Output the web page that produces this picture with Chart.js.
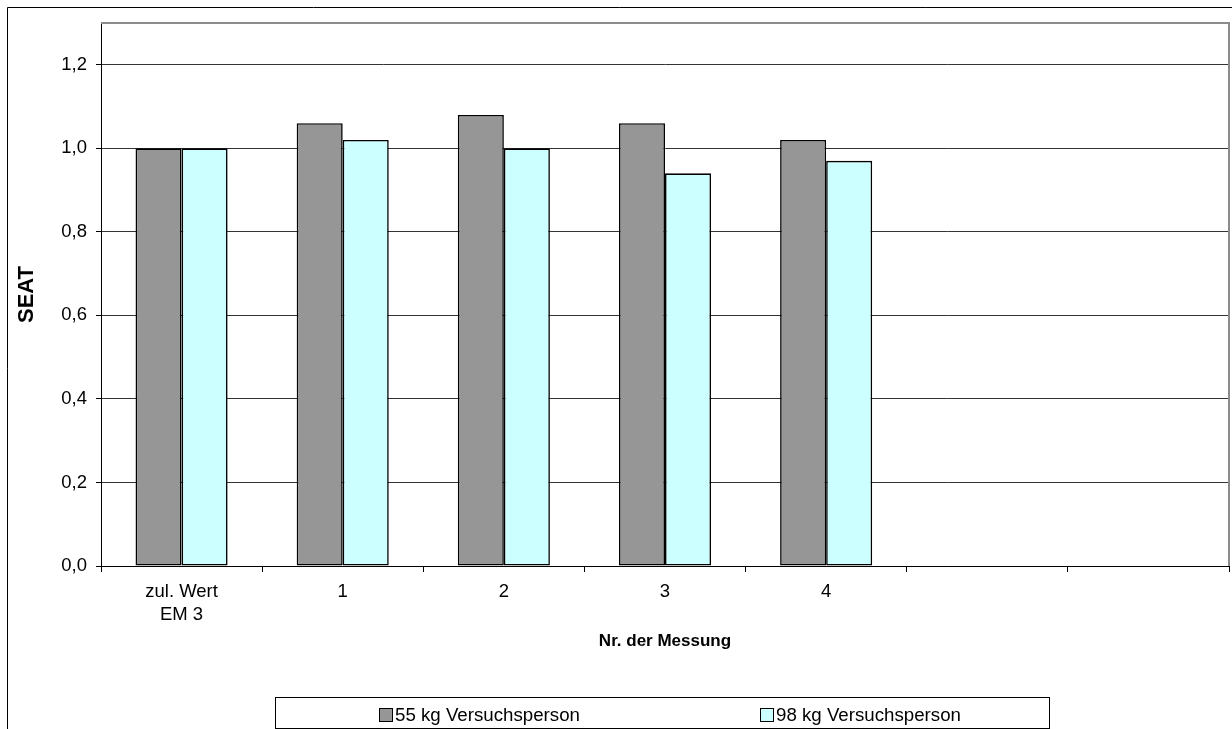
<!DOCTYPE html>
<html>
<head>
<meta charset="utf-8">
<title>SEAT – Nr. der Messung</title>
<script src="https://cdn.jsdelivr.net/npm/chart.js@4.4.1/dist/chart.umd.min.js"></script>
<style>
  html, body { margin: 0; padding: 0; background: #fff; }
  #wrap { width: 1232px; height: 729px; position: relative; }
</style>
</head>
<body>
<div id="wrap"><canvas id="chart"></canvas></div>
<script>
// Categories along the x axis (two trailing empty slots keep the axis width)
const categories = [['zul. Wert', 'EM 3'], '1', '2', '3', '4', '', ''];
// SEAT values per measurement
const seat55 = [1.00, 1.06, 1.08, 1.06, 1.02, null, null];
const seat98 = [1.00, 1.02, 1.00, 0.94, 0.97, null, null];
const seriesLabels = ['55 kg Versuchsperson', '98 kg Versuchsperson'];
// Value axis
const yTicks = [0, 0.2, 0.4, 0.6, 0.8, 1.0, 1.2];
const yMax = 1.3;
const yTitle = 'SEAT';
const xTitle = 'Nr. der Messung';

const FONT = '"Liberation Sans", Arial, Helvetica, sans-serif';
Chart.defaults.font.family = FONT;
Chart.defaults.color = '#000';

// Chart frame, plot-area border and the boxed legend underneath
const excelFrame = {
  id: 'excelFrame',
  beforeDraw(chart) {
    const ctx = chart.ctx;
    ctx.save();
    ctx.strokeStyle = '#000';
    ctx.lineWidth = 1;
    ctx.beginPath();
    ctx.moveTo(7.5, chart.height);
    ctx.lineTo(7.5, 7.5);
    ctx.lineTo(chart.width, 7.5);
    ctx.stroke();
    ctx.restore();
  },
  beforeDatasetsDraw(chart) {
    const { left, top, right, bottom } = chart.chartArea;
    const ctx = chart.ctx;
    ctx.save();
    ctx.strokeStyle = '#8c8c8c';
    ctx.lineWidth = 2;
    ctx.beginPath();
    ctx.moveTo(left, top);
    ctx.lineTo(right, top);
    ctx.lineTo(right, bottom);
    ctx.stroke();
    ctx.restore();
  },
  afterDraw(chart) {
    const ctx = chart.ctx;
    ctx.save();
    const bx = 275.5, by = 697.5, bw = 774, bh = 31;
    ctx.fillStyle = '#fff';
    ctx.fillRect(bx, by, bw, bh);
    ctx.strokeStyle = '#000';
    ctx.lineWidth = 1;
    ctx.strokeRect(bx, by, bw, bh);
    ctx.font = '18.7px ' + FONT;
    ctx.textBaseline = 'alphabetic';
    ctx.textAlign = 'left';
    chart.data.datasets.forEach((ds, i) => {
      const x = 379 + i * 381, y = 708;
      ctx.fillStyle = ds.backgroundColor;
      ctx.fillRect(x + 0.5, y + 0.5, 13, 13);
      ctx.strokeStyle = '#000';
      ctx.strokeRect(x + 0.5, y + 0.5, 13, 13);
      ctx.fillStyle = '#000';
      ctx.fillText(ds.label, x + 16, 721);
    });
    ctx.restore();
  }
};

new Chart(document.getElementById('chart'), {
  type: 'bar',
  data: {
    labels: categories,
    datasets: [
      {
        label: seriesLabels[0],
        data: seat55,
        backgroundColor: '#969696',
        borderColor: '#000',
        borderWidth: 1.6,
        borderSkipped: false
      },
      {
        label: seriesLabels[1],
        data: seat98,
        backgroundColor: '#ccffff',
        borderColor: '#000',
        borderWidth: 1.6,
        borderSkipped: false
      }
    ]
  },
  options: {
    responsive: true,
    maintainAspectRatio: false,
    animation: false,
    events: [],
    categoryPercentage: 2 / 3.5,
    barPercentage: 1.0,
    layout: { padding: { left: 0, top: 23, right: 3, bottom: 0 } },
    plugins: {
      legend: { display: false },
      tooltip: { enabled: false }
    },
    scales: {
      x: {
        grid: {
          offset: true,
          drawOnChartArea: false,
          drawTicks: true,
          tickLength: 6,
          tickColor: '#000',
          tickWidth: 1
        },
        border: { color: '#000', width: 1 },
        ticks: {
          color: '#000',
          font: { size: 18.5, lineHeight: 1.22 },
          padding: 9,
          autoSkip: false,
          maxRotation: 0,
          minRotation: 0
        },
        title: {
          display: true,
          text: xTitle,
          color: '#000',
          font: { size: 17, weight: 'bold' },
          padding: { top: 0, bottom: 77 }
        },
        afterFit(scale) { scale.height = 163; }
      },
      y: {
        min: 0,
        max: yMax,
        afterBuildTicks(scale) { scale.ticks = yTicks.map(v => ({ value: v })); },
        grid: {
          color: '#333333',
          lineWidth: 1,
          drawTicks: true,
          tickLength: 5,
          tickColor: '#000'
        },
        border: { color: '#000', width: 1 },
        ticks: {
          color: '#000',
          font: { size: 18.5 },
          padding: 9,
          callback: v => Number(v).toFixed(1).replace('.', ',')
        },
        title: {
          display: true,
          text: yTitle,
          color: '#000',
          font: { size: 22, weight: 'bold' },
          padding: { top: 14, bottom: 0 }
        },
        afterFit(scale) { scale.width = 101; }
      }
    }
  },
  plugins: [excelFrame]
});
</script>
</body>
</html>
